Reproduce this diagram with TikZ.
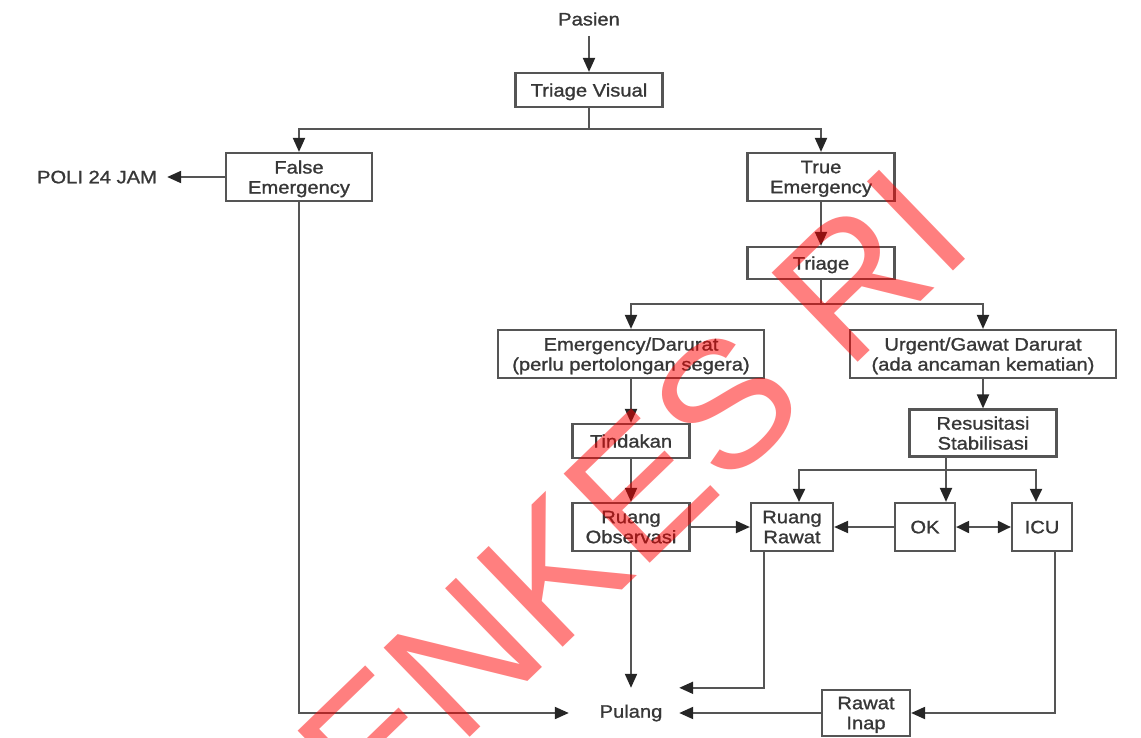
\documentclass[tikz,border=0pt]{standalone}
\usepackage{fontspec}
\setmainfont{Liberation Sans}[FakeStretch=1.12, FakeBold=1.2]
\newfontfamily\tandafont{Liberation Sans}
\usetikzlibrary{arrows.meta}
\definecolor{garis}{RGB}{85,85,85}
\definecolor{huruf}{RGB}{55,55,55}
\tikzset{
  kotak/.style={draw=garis, line width=2.2pt, align=center, inner sep=0pt, text depth=0pt,
    font=\fontsize{18}{20}\selectfont, text=huruf},
  tulisan/.style={inner sep=0pt, font=\fontsize{18}{20}\selectfont, text=huruf},
  panah/.style={-{Triangle[length=14pt,width=12pt,color=black!85]}, draw=garis, line width=2pt},
  panahdua/.style={{Triangle[length=13pt,width=12pt,color=black!85]}-{Triangle[length=13pt,width=12pt,color=black!85]}, draw=garis, line width=2pt},
  garisan/.style={draw=garis, line width=2pt},
}
\begin{document}
\begin{tikzpicture}[x=1pt,y=-1pt]
  \useasboundingbox (0,0) rectangle (1141,737);

  % Masuk
  \node[tulisan, inner ysep=10pt] (pasien) at (589,19) {Pasien};
  \node[kotak, minimum width=147pt, minimum height=34pt] (visual) at (589,90) {Triage Visual};

  % Emergency
  \node[kotak, minimum width=146pt, minimum height=48pt] (falsa) at (299,177) {False\\Emergency};
  \node[kotak, minimum width=147pt, minimum height=48pt] (benar) at (821,177) {True\\Emergency};
  \node[tulisan, inner xsep=10pt, text depth=0pt] (poli) at (97,177) {POLI 24 JAM};
  \node[kotak, minimum width=147pt, minimum height=32pt] (triage) at (821,263) {Triage};

  % Darurat
  \node[kotak, minimum width=266pt, minimum height=48pt] (darurat) at (631,354) {Emergency/Darurat\\(perlu pertolongan segera)};
  \node[kotak, minimum width=266pt, minimum height=48pt] (gawat) at (983,354) {Urgent/Gawat Darurat\\(ada ancaman kematian)};
  \node[kotak, minimum width=117pt, minimum height=34pt] (tindakan) at (631,441) {Tindakan};
  \node[kotak, minimum width=147pt, minimum height=47pt] (resus) at (983,433) {Resusitasi\\Stabilisasi};

  % Ruang
  \node[kotak, minimum width=117pt, minimum height=48pt] (observasi) at (631,527) {Ruang\\Observasi};
  \node[kotak, minimum width=82pt, minimum height=48pt] (rawat) at (792,527) {Ruang\\Rawat};
  \node[kotak, minimum width=60pt, minimum height=48pt] (ok) at (925,527) {OK};
  \node[kotak, minimum width=60pt, minimum height=48pt] (icu) at (1042,527) {ICU};

  % Keluar
  \node[tulisan, minimum width=96pt, minimum height=50pt] (pulang) at (631,713) {Pulang};
  \node[kotak, minimum width=88pt, minimum height=46pt] (inap) at (866,713) {Rawat\\Inap};

  % Cabang
  \coordinate (cabang1) at (589,129);
  \coordinate (cabang2) at (821,304);
  \coordinate (cabang3) at (946,470);

  \draw[panah] (pasien) -- (visual);
  \draw[garisan] (visual) -- (cabang1);
  \draw[panah] (cabang1) -| (falsa);
  \draw[panah] (cabang1) -| (benar);
  \draw[panah] (falsa) -- (poli);
  \draw[panah] (falsa) |- ([xshift=-14pt]pulang.west);
  \draw[panah] (benar) -- (triage);
  \draw[garisan] (triage) -- (cabang2);
  \draw[panah] (cabang2) -| (darurat);
  \draw[panah] (cabang2) -| (gawat);
  \draw[panah] (darurat) -- (tindakan);
  \draw[panah] (tindakan) -- (observasi);
  \draw[panah] (gawat) -- (resus);
  \draw[panah] (resus.south -| cabang3) -- (cabang3 |- ok.north);
  \draw[panahdua] ([xshift=7pt]rawat.north) |- (cabang3) -| ([xshift=-6pt]icu.north);
  \draw[panah] (observasi) -- (rawat);
  \draw[panah] (ok) -- (rawat);
  \draw[panahdua] (ok) -- (icu);
  \draw[panah] (observasi) -- (pulang);
  \draw[panah] ([xshift=-28pt]rawat.south) |- (pulang.north east);
  \draw[panah] (inap) -- (pulang);
  \draw[panah] ([xshift=13pt]icu.south) |- (inap);

  % Tanda
  \node[inner sep=0pt, rotate=44, font=\tandafont\fontsize{180}{180}\selectfont,
    text=red, text opacity=0.5] (tanda) at (492,630) {KEMENKES RI};
\end{tikzpicture}
\end{document}
